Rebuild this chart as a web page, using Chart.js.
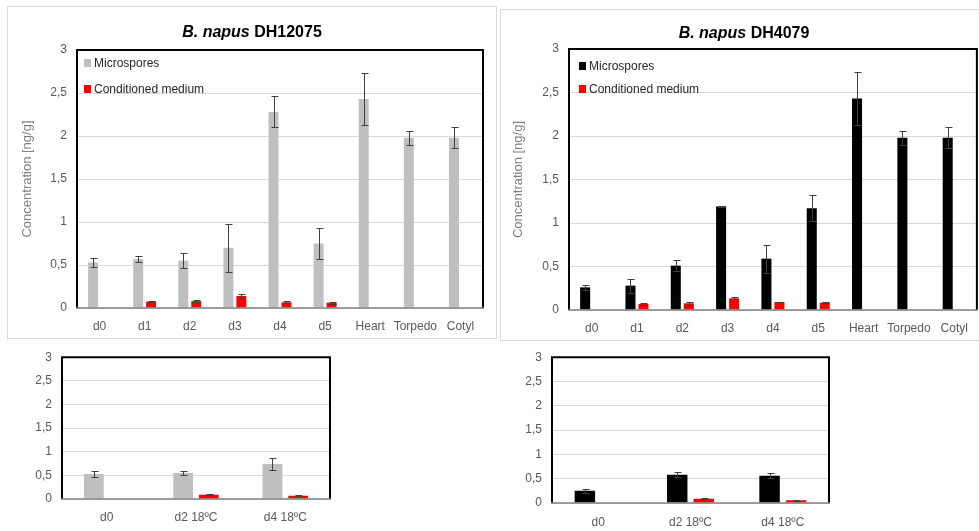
<!DOCTYPE html>
<html>
<head>
<meta charset="utf-8">
<title>B. napus concentration</title>
<script src="https://cdn.jsdelivr.net/npm/chart.js@4.4.1/dist/chart.umd.min.js"></script>
<style>
  body { margin: 0; width: 979px; height: 531px; overflow: hidden; background: #fff; position: relative;
         font-family: "Liberation Sans", Arial, sans-serif; }
  .panel { position: absolute; box-sizing: border-box; }
  .framed { border: 1px solid #d9d9d9; }
  .panel canvas { position: absolute; left: 0; top: 0; }
  .title { position: absolute; font-weight: bold; font-size: 16px; line-height: 20px; color: #000;
           white-space: nowrap; transform: translateX(-50%); }
</style>
</head>
<body>

<div class="panel framed" style="left:7px; top:6px; width:490px; height:333px;">
  <canvas id="chartTL" width="488" height="331"></canvas>
</div>
<div class="title" style="left:252px; top:22px;"><i>B. napus</i> DH12075</div>

<div class="panel framed" style="left:500px; top:9px; width:490px; height:332px;">
  <canvas id="chartTR" width="478" height="330"></canvas>
</div>
<div class="title" style="left:744px; top:23px;"><i>B. napus</i> DH4079</div>

<div class="panel" style="left:0px; top:340px; width:345px; height:191px;">
  <canvas id="chartBL" width="345" height="191"></canvas>
</div>
<div class="panel" style="left:490px; top:340px; width:350px; height:191px;">
  <canvas id="chartBR" width="350" height="191"></canvas>
</div>

<script>
// ---- categories / ticks ----
var mainDays = ["d0", "d1", "d2", "d3", "d4", "d5", "Heart", "Torpedo", "Cotyl"];
var coldDays = ["d0", "d2 18ºC", "d4 18ºC"];
var yTicks = [0, 0.5, 1, 1.5, 2, 2.5, 3];

// ---- DH12075 ----
var dh12075Micro = [0.53, 0.57, 0.55, 0.70, 2.28, 0.75, 2.43, 1.98, 1.98];
var dh12075MicroErr = [0.055, 0.035, 0.09, 0.28, 0.18, 0.18, 0.30, 0.08, 0.12];
var dh12075Medium = [null, 0.074, 0.08, 0.14, 0.066, 0.062, null, null, null];
var dh12075MediumErr = [null, 0.01, 0.008, 0.02, 0.01, 0.01, null, null, null];

// ---- DH4079 ----
var dh4079Micro = [0.26, 0.28, 0.51, 1.19, 0.59, 1.17, 2.43, 1.98, 1.98];
var dh4079MicroErr = [0.03, 0.08, 0.065, 0.005, 0.16, 0.15, 0.30, 0.08, 0.12];
var dh4079Medium = [null, 0.069, 0.077, 0.134, 0.092, 0.084, null, null, null];
var dh4079MediumErr = [null, 0.006, 0.02, 0.01, 0.005, 0.005, null, null, null];

// ---- 18ºC ----
var cold12075Micro = [0.53, 0.55, 0.74];
var cold12075MicroErr = [0.06, 0.04, 0.13];
var cold12075Medium = [null, 0.09, 0.07];
var cold12075MediumErr = [null, 0.015, 0.01];

var cold4079Micro = [0.25, 0.58, 0.56];
var cold4079MicroErr = [0.04, 0.055, 0.055];
var cold4079Medium = [null, 0.089, 0.055];
var cold4079MediumErr = [null, 0.01, 0.01];

var FONT = "'Liberation Sans', Arial, sans-serif";
var GREY = "#bfbfbf";
var RED = "#ff0000";

// error bars: vertical line with caps, from dataset.errors
var errorBars = {
    id: "errorBars",
    afterDatasetsDraw: function(chart) {
        var ctx = chart.ctx;
        var y = chart.scales.y;
        ctx.save();
        ctx.strokeStyle = "#404040";
        ctx.lineWidth = 1;
        chart.data.datasets.forEach(function(ds, i) {
            var meta = chart.getDatasetMeta(i);
            meta.data.forEach(function(bar, j) {
                var v = ds.data[j];
                var e = ds.errors ? ds.errors[j] : null;
                if (v == null || e == null) return;
                var top = Math.round(y.getPixelForValue(v + e)) + 0.5;
                var bot = Math.round(y.getPixelForValue(Math.max(v - e, 0))) + 0.5;
                var x = Math.round(bar.x) + 0.5;
                ctx.beginPath();
                ctx.moveTo(x, top); ctx.lineTo(x, bot);
                ctx.moveTo(x - 3, top); ctx.lineTo(x + 4, top);
                ctx.moveTo(x - 3, bot); ctx.lineTo(x + 4, bot);
                ctx.stroke();
            });
        });
        ctx.restore();
    }
};

// black box round the plot area, grey base line
var plotFrame = {
    id: "plotFrame",
    afterDraw: function(chart) {
        var ca = chart.chartArea;
        var ctx = chart.ctx;
        ctx.save();
        ctx.strokeStyle = "#000";
        ctx.lineWidth = 2;
        ctx.beginPath();
        ctx.moveTo(ca.left, ca.bottom);
        ctx.lineTo(ca.left, ca.top);
        ctx.lineTo(ca.right, ca.top);
        ctx.lineTo(ca.right, ca.bottom);
        ctx.stroke();
        ctx.strokeStyle = "#808080";
        ctx.lineWidth = 1.5;
        ctx.beginPath();
        ctx.moveTo(ca.left - 1, ca.bottom);
        ctx.lineTo(ca.right + 1, ca.bottom);
        ctx.stroke();
        ctx.restore();
    }
};

// legend drawn inside the plot area
var innerLegend = {
    id: "innerLegend",
    afterDraw: function(chart, args, opts) {
        if (!opts || !opts.show) return;
        var ca = chart.chartArea;
        var ctx = chart.ctx;
        ctx.save();
        ctx.font = "12px " + FONT;
        ctx.textBaseline = "middle";
        chart.data.datasets.forEach(function(ds, i) {
            var cy = ca.top + opts.y + i * opts.gap;
            ctx.fillStyle = ds.backgroundColor;
            ctx.fillRect(ca.left + opts.x, cy - 4, 7, 8);
            ctx.fillStyle = "#262626";
            ctx.fillText(ds.label, ca.left + opts.x + 10, cy + 1);
        });
        ctx.restore();
    }
};

function makeChart(id, labels, micro, microErr, microColor, medium, mediumErr, cfg) {
    var ctx = document.getElementById(id);
    return new Chart(ctx, {
        type: "bar",
        data: {
            labels: labels,
            datasets: [
                { label: "Microspores", data: micro, errors: microErr, backgroundColor: microColor,
                  categoryPercentage: 0.575, barPercentage: 0.77 },
                { label: "Conditioned medium", data: medium, errors: mediumErr, backgroundColor: RED,
                  categoryPercentage: 0.575, barPercentage: 0.77 }
            ]
        },
        options: {
            responsive: false,
            animation: false,
            layout: { padding: cfg.padding },
            plugins: {
                legend: { display: false },
                tooltip: { enabled: false },
                innerLegend: cfg.legend
            },
            scales: {
                x: {
                    grid: { display: false, drawTicks: false },
                    border: { display: false },
                    ticks: {
                        color: "#595959",
                        font: { family: FONT, size: 12 },
                        padding: cfg.xPad,
                        autoSkip: false,
                        minRotation: 0,
                        maxRotation: 0
                    },
                    afterFit: function(axis) { axis.height = cfg.xHeight; }
                },
                y: {
                    min: 0,
                    max: 3,
                    afterBuildTicks: function(axis) {
                        axis.ticks = yTicks.map(function(v) { return { value: v }; });
                    },
                    grid: { color: "#d9d9d9", lineWidth: 1, drawTicks: false },
                    border: { display: false },
                    ticks: {
                        color: "#595959",
                        font: { family: FONT, size: 12 },
                        padding: 10,
                        callback: function(value) { return String(value).replace(".", ","); }
                    },
                    title: {
                        display: cfg.yTitle,
                        text: "Concentration [ng/g]",
                        color: "#7f7f7f",
                        font: { family: FONT, size: 13 }
                    },
                    afterFit: function(axis) { axis.width = cfg.yWidth; }
                }
            }
        },
        plugins: [errorBars, plotFrame, innerLegend]
    });
}

makeChart("chartTL", mainDays, dh12075Micro, dh12075MicroErr, GREY, dh12075Medium, dh12075MediumErr, {
    padding: { left: 8, top: 43, right: 13, bottom: 0 },
    yWidth: 61, xHeight: 30, xPad: 11, yTitle: true,
    legend: { show: true, x: 7, y: 13, gap: 26 }
});

makeChart("chartTR", mainDays, dh4079Micro, dh4079MicroErr, "#000000", dh4079Medium, dh4079MediumErr, {
    padding: { left: 6, top: 39, right: 2, bottom: 0 },
    yWidth: 62, xHeight: 30, xPad: 11, yTitle: true,
    legend: { show: true, x: 10, y: 17, gap: 23 }
});

makeChart("chartBL", coldDays, cold12075Micro, cold12075MicroErr, GREY, cold12075Medium, cold12075MediumErr, {
    padding: { left: 0, top: 16, right: 15, bottom: 0 },
    yWidth: 62, xHeight: 32, xPad: 11, yTitle: false,
    legend: { show: false }
});

makeChart("chartBR", coldDays, cold4079Micro, cold4079MicroErr, "#000000", cold4079Medium, cold4079MediumErr, {
    padding: { left: 0, top: 17, right: 11, bottom: 0 },
    yWidth: 62, xHeight: 28, xPad: 12, yTitle: false,
    legend: { show: false }
});
</script>
</body>
</html>
